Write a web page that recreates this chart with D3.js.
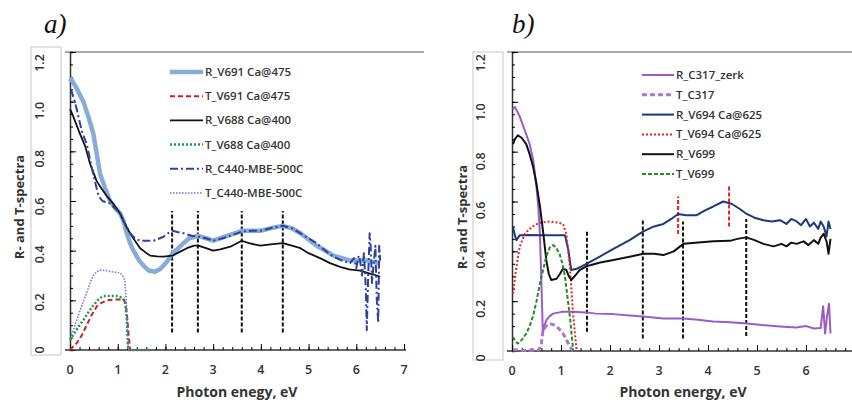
<!DOCTYPE html>
<html lang="en">
<head>
<meta charset="UTF-8">
<title>R and T spectra</title>
<script src="https://d3js.org/d3.v7.min.js"></script>
<style>
  body { margin: 0; background: #fff; }
  text { font-family: "Open Sans", "Liberation Sans", sans-serif; fill: #333; }
  .panel-title { font-family: "Liberation Serif", "DejaVu Serif", serif; font-style: italic; font-size: 27px; fill: #111; }
  .tick-lab { font-size: 12.5px; font-weight: 600; }
  .ax-title { font-size: 13px; font-weight: 700; }
  .leg { font-size: 11.5px; font-weight: 600; }
</style>
</head>
<body>
<svg width="852" height="405"></svg>
<script>
// ---- panel a data (x = photon energy eV, y = R or T) ----
var R_V691 = [[0,1.08],[0.03,1.09],[0.15,1.05],[0.28,1.0],[0.4,0.93],[0.49,0.87],[0.56,0.79],[0.63,0.71],[0.72,0.66],[0.84,0.60],[0.95,0.57],[1.05,0.55],[1.12,0.52],[1.19,0.47],[1.26,0.43],[1.33,0.40],[1.45,0.36],[1.54,0.34],[1.65,0.32],[1.78,0.315],[1.88,0.325],[1.96,0.34],[2.05,0.36],[2.15,0.39],[2.27,0.41],[2.38,0.43],[2.5,0.45],[2.69,0.46],[2.85,0.45],[3.0,0.44],[3.15,0.45],[3.29,0.46],[3.45,0.47],[3.6,0.48],[3.8,0.48],[3.99,0.48],[4.2,0.49],[4.46,0.50],[4.65,0.49],[4.83,0.47],[5.0,0.445],[5.17,0.42],[5.35,0.40],[5.52,0.38],[5.7,0.37],[5.87,0.36],[6.05,0.36],[6.22,0.36],[6.35,0.355],[6.5,0.35]];
var T_V691 = [[0,0.0],[0.07,0.015],[0.14,0.027],[0.25,0.06],[0.35,0.10],[0.45,0.14],[0.56,0.175],[0.66,0.19],[0.77,0.20],[0.95,0.203],[1.12,0.204],[1.16,0.19],[1.19,0.15],[1.23,0.06],[1.26,0.0],[1.7,0.0]];
var R_V688 = [[0,0.97],[0.05,0.95],[0.21,0.87],[0.32,0.82],[0.42,0.75],[0.56,0.68],[0.66,0.65],[0.77,0.62],[0.88,0.595],[0.98,0.57],[1.05,0.55],[1.12,0.52],[1.2,0.49],[1.29,0.46],[1.38,0.435],[1.47,0.41],[1.57,0.395],[1.68,0.38],[1.82,0.377],[1.96,0.376],[2.15,0.38],[2.3,0.395],[2.45,0.41],[2.6,0.42],[2.69,0.42],[2.85,0.41],[3.0,0.40],[3.15,0.405],[3.36,0.416],[3.5,0.43],[3.6,0.44],[3.75,0.43],[3.99,0.42],[4.2,0.425],[4.46,0.43],[4.65,0.42],[4.83,0.41],[5.0,0.39],[5.24,0.37],[5.45,0.35],[5.66,0.335],[5.85,0.325],[6.08,0.32],[6.25,0.31],[6.43,0.30],[6.5,0.295]];
var T_V688 = [[0,0.04],[0.1,0.07],[0.2,0.10],[0.28,0.12],[0.38,0.15],[0.49,0.18],[0.6,0.205],[0.7,0.217],[0.85,0.218],[0.98,0.217],[1.1,0.21],[1.15,0.195],[1.19,0.13],[1.22,0.0],[1.7,0.0]];
var R_C440 = [[0.02,1.05],[0.1,1.0],[0.14,0.97],[0.25,0.88],[0.35,0.83],[0.45,0.74],[0.52,0.68],[0.6,0.62],[0.68,0.60],[0.84,0.59],[1.05,0.55],[1.15,0.51],[1.26,0.47],[1.36,0.45],[1.47,0.44],[1.6,0.44],[1.75,0.44],[1.96,0.456],[2.05,0.47],[2.15,0.48],[2.25,0.475],[2.38,0.47],[2.55,0.46],[2.69,0.456],[2.85,0.45],[3.0,0.44],[3.2,0.45],[3.36,0.46],[3.6,0.477],[3.8,0.48],[3.99,0.48],[4.2,0.49],[4.46,0.50],[4.65,0.49],[4.83,0.47],[5.0,0.45],[5.17,0.43],[5.35,0.40],[5.52,0.376],[5.7,0.36],[5.87,0.35],[5.95,0.37],[6.0,0.33],[6.05,0.38],[6.08,0.36],[6.12,0.30],[6.16,0.39],[6.2,0.25],[6.22,0.08],[6.25,0.30],[6.28,0.47],[6.3,0.42],[6.33,0.27],[6.37,0.36],[6.4,0.42],[6.43,0.20],[6.46,0.11],[6.48,0.42],[6.5,0.36]];
var T_C440 = [[0,0.05],[0.07,0.08],[0.14,0.12],[0.25,0.18],[0.35,0.23],[0.42,0.27],[0.49,0.30],[0.56,0.315],[0.63,0.322],[0.75,0.32],[0.84,0.316],[0.95,0.313],[1.05,0.31],[1.1,0.30],[1.15,0.28],[1.18,0.20],[1.21,0.05],[1.22,0.0],[1.7,0.0]];
var vlinesA = [2.14, 2.68, 3.6, 4.46];
var vlineA_y = [0.07, 0.56];

// ---- panel b data ----
var R_C317 = [[0.02,0.97],[0.06,0.98],[0.16,0.94],[0.29,0.87],[0.36,0.83],[0.43,0.77],[0.5,0.66],[0.54,0.57],[0.57,0.47],[0.6,0.27],[0.63,0.07],[0.66,0.10],[0.7,0.124],[0.77,0.14],[0.84,0.15],[1.04,0.158],[1.25,0.158],[1.5,0.155],[1.72,0.15],[2.07,0.148],[2.4,0.142],[2.68,0.138],[3.09,0.13],[3.5,0.13],[3.8,0.125],[4.1,0.118],[4.45,0.115],[4.79,0.11],[5.1,0.104],[5.47,0.098],[5.8,0.094],[6.0,0.10],[6.16,0.09],[6.3,0.092],[6.35,0.18],[6.39,0.07],[6.43,0.14],[6.47,0.19],[6.5,0.07]];
var T_C317 = [[0.02,0.005],[0.3,0.002],[0.55,0.005],[0.6,0.03],[0.63,0.084],[0.7,0.10],[0.77,0.11],[0.85,0.105],[0.9,0.10],[0.98,0.085],[1.04,0.07],[1.1,0.05],[1.18,0.017],[1.25,0.0]];
var R_V694 = [[0.02,0.50],[0.05,0.47],[0.09,0.445],[0.16,0.465],[0.36,0.466],[0.6,0.465],[0.85,0.465],[1.08,0.465],[1.15,0.405],[1.21,0.325],[1.32,0.33],[1.52,0.35],[1.8,0.38],[2.07,0.41],[2.4,0.445],[2.68,0.48],[2.9,0.50],[3.09,0.51],[3.25,0.53],[3.39,0.55],[3.55,0.545],[3.77,0.545],[3.95,0.565],[4.11,0.58],[4.31,0.60],[4.49,0.59],[4.65,0.57],[4.79,0.55],[4.95,0.535],[5.13,0.525],[5.3,0.52],[5.47,0.525],[5.6,0.51],[5.7,0.53],[5.81,0.52],[5.9,0.505],[6.0,0.53],[6.08,0.50],[6.16,0.515],[6.25,0.49],[6.3,0.52],[6.36,0.50],[6.42,0.46],[6.46,0.52],[6.5,0.49]];
var T_V694 = [[0.02,0.23],[0.09,0.34],[0.16,0.42],[0.26,0.47],[0.36,0.49],[0.46,0.505],[0.57,0.515],[0.77,0.52],[0.95,0.515],[1.04,0.51],[1.11,0.47],[1.18,0.34],[1.25,0.14],[1.32,0.0]];
var R_V699 = [[0.02,0.83],[0.06,0.85],[0.12,0.866],[0.2,0.855],[0.29,0.83],[0.36,0.79],[0.43,0.74],[0.5,0.67],[0.57,0.58],[0.64,0.47],[0.7,0.365],[0.75,0.31],[0.8,0.285],[0.91,0.29],[0.98,0.31],[1.04,0.33],[1.11,0.325],[1.16,0.30],[1.21,0.285],[1.3,0.305],[1.38,0.325],[1.52,0.34],[1.8,0.355],[2.07,0.365],[2.4,0.378],[2.68,0.39],[2.9,0.39],[3.09,0.385],[3.3,0.40],[3.5,0.43],[3.8,0.435],[4.11,0.44],[4.45,0.442],[4.6,0.45],[4.78,0.456],[4.95,0.445],[5.13,0.43],[5.34,0.42],[5.5,0.43],[5.6,0.42],[5.7,0.435],[5.81,0.43],[5.95,0.44],[6.05,0.425],[6.16,0.445],[6.25,0.43],[6.3,0.455],[6.36,0.47],[6.42,0.44],[6.46,0.39],[6.5,0.45]];
var T_V699 = [[0.02,0.057],[0.06,0.04],[0.12,0.03],[0.2,0.045],[0.29,0.07],[0.36,0.10],[0.43,0.14],[0.5,0.20],[0.57,0.27],[0.64,0.33],[0.7,0.38],[0.77,0.415],[0.84,0.425],[0.9,0.415],[0.97,0.39],[1.03,0.35],[1.08,0.30],[1.13,0.22],[1.18,0.14],[1.22,0.06],[1.25,0.0]];
var vlinesB = [[1.53,0.077,0.48],[2.67,0.05,0.53],[3.49,0.05,0.52],[4.78,0.06,0.53]];
var redLinesB = [[3.39,0.47,0.62],[4.43,0.50,0.66]];

var yTicks = [0, 0.2, 0.4, 0.6, 0.8, 1.0, 1.2];
var yTickLabels = ["0", "0.2", "0.4", "0.6", "0.8", "1.0", "1.2"];
var xTicks = [0, 1, 2, 3, 4, 5, 6, 7];

var svg = d3.select("svg");

function drawPanel(p) {
  var g = svg.append("g");
  var x = d3.scaleLinear().domain([0, 7]).range(p.xr);
  var y = d3.scaleLinear().domain([0, 1.2]).range(p.yr);
  var yLab = d3.scaleLinear().domain([0, 1.2]).range(p.labr);

  // panel letter
  g.append("text").attr("class", "panel-title")
    .attr("x", p.title[0]).attr("y", p.title[1]).text(p.letter);

  // label box
  g.append("rect").attr("x", p.box[0]).attr("y", p.box[1])
    .attr("width", p.box[2]).attr("height", p.box[3])
    .attr("fill", "none").attr("stroke", "#c8c8c8").attr("stroke-width", 1);

  // top frame line
  g.append("line").attr("x1", p.xr[0] - 5).attr("x2", p.topEnd)
    .attr("y1", p.yr[1]).attr("y2", p.yr[1]).attr("stroke", "#555").attr("stroke-width", 1.2);

  // axes with inward ticks
  var yAxis = d3.axisRight(y).tickValues(d3.range(0, 1.2001, 0.05)).tickSize(3).tickFormat("");
  g.append("g").attr("transform", "translate(" + p.xr[0] + ",0)").call(yAxis)
    .call(function (s) { s.select(".domain").attr("stroke", "#333").attr("stroke-width", 1.5); });
  g.append("g").attr("transform", "translate(" + p.xr[0] + ",0)")
    .call(d3.axisRight(y).tickValues(yTicks).tickSize(6).tickFormat(""))
    .call(function (s) { s.select(".domain").remove(); });

  var xAxis = d3.axisTop(x).tickValues(d3.range(0, 7.001, 0.2)).tickSize(3).tickFormat("");
  g.append("g").attr("transform", "translate(0," + p.yr[0] + ")").call(xAxis)
    .call(function (s) {
      s.select(".domain").attr("d", "M" + (p.xr[0] - 5) + ",0H" + p.xEnd).attr("stroke", "#333").attr("stroke-width", 1.5);
    });
  g.append("g").attr("transform", "translate(0," + p.yr[0] + ")")
    .call(d3.axisTop(x).tickValues(xTicks).tickSize(6).tickFormat(""))
    .call(function (s) { s.select(".domain").remove(); });

  // x tick labels (the reference crops the last one at the page edge)
  g.selectAll(".xl").data(xTicks.filter(function (d) { return x(d) < 848; })).enter().append("text")
    .attr("class", "tick-lab").attr("text-anchor", "middle")
    .attr("x", function (d) { return x(d); }).attr("y", p.yr[0] + 24)
    .text(function (d) { return d; });

  // y tick labels (rotated)
  g.selectAll(".yl").data(yTicks).enter().append("text")
    .attr("class", "tick-lab").attr("text-anchor", "middle")
    .attr("transform", function (d) { return "translate(" + p.labX + "," + yLab(d) + ") rotate(-90)"; })
    .attr("dy", "0.35em")
    .text(function (d, i) { return yTickLabels[i]; });

  // axis titles
  g.append("text").attr("class", "ax-title").attr("text-anchor", "middle")
    .attr("transform", "translate(" + p.yt[0] + "," + p.yt[1] + ") rotate(-90)")
    .attr("dy", "0.35em").text("R- and T-spectra");
  g.append("text").attr("class", "ax-title").attr("text-anchor", "middle")
    .attr("x", p.xt[0]).attr("y", p.xt[1]).style("font-size", "14px").text(p.xtitle);

  var line = d3.line().x(function (d) { return x(d[0]); }).y(function (d) { return y(d[1]); });

  // vertical marker lines
  p.vlines.forEach(function (v) {
    g.append("line").attr("x1", x(v[0])).attr("x2", x(v[0]))
      .attr("y1", y(v[1])).attr("y2", y(v[2]))
      .attr("stroke", v[3]).attr("stroke-width", 2).attr("stroke-dasharray", "4,2");
  });

  // series
  p.series.forEach(function (s) {
    g.append("path").datum(s.data).attr("d", line)
      .attr("fill", "none").attr("stroke", s.color).attr("stroke-width", s.w)
      .attr("stroke-dasharray", s.dash || null).attr("stroke-linejoin", "round");
  });

  // legend
  p.series.forEach(function (s, i) {
    var ly = p.leg[1] + i * p.leg[3];
    g.append("line").attr("x1", p.leg[0]).attr("x2", p.leg[0] + p.leg[2])
      .attr("y1", ly).attr("y2", ly)
      .attr("stroke", s.color).attr("stroke-width", s.w).attr("stroke-dasharray", s.dash || null);
    g.append("text").attr("class", "leg").attr("x", p.leg[0] + p.leg[2] + 2).attr("y", ly)
      .attr("dy", "0.35em").text(s.name);
  });
}

drawPanel({
  letter: "a)", title: [44, 33],
  xr: [70, 404], yr: [350, 52], labr: [350, 63], labX: 40,
  box: [31, 47, 30, 308], topEnd: 424, xEnd: 406,
  yt: [19, 207], xt: [237, 397], xtitle: "Photon enegy, eV",
  leg: [170, 72, 33, 24.2],
  vlines: vlinesA.map(function (v) { return [v, vlineA_y[0], vlineA_y[1], "#111"]; }),
  series: [
    { name: "R_V691 Ca@475", data: R_V691, color: "#86acd8", w: 4.5 },
    { name: "T_V691 Ca@475", data: T_V691, color: "#c8202a", w: 2, dash: "5,3" },
    { name: "R_V688 Ca@400", data: R_V688, color: "#111", w: 1.8 },
    { name: "T_V688 Ca@400", data: T_V688, color: "#1a9a4a", w: 2.5, dash: "2,2" },
    { name: "R_C440-MBE-500C", data: R_C440, color: "#3040a0", w: 2, dash: "8,3,2,3" },
    { name: "T_C440-MBE-500C", data: T_C440, color: "#7070d0", w: 1.5, dash: "1.5,1.5" }
  ]
});

drawPanel({
  letter: "b)", title: [512, 33],
  xr: [512, 855], yr: [351, 52], labr: [358, 63], labX: 481,
  box: [473, 52, 30, 308], topEnd: 852, xEnd: 852,
  yt: [462, 217], xt: [683, 397], xtitle: "Photon energy, eV",
  leg: [642, 75, 32, 19.8],
  vlines: vlinesB.map(function (v) { return [v[0], v[1], v[2], "#111"]; })
    .concat(redLinesB.map(function (v) { return [v[0], v[1], v[2], "#e02020"]; })),
  series: [
    { name: "R_C317_zerk", data: R_C317, color: "#9a5cc6", w: 2 },
    { name: "T_C317", data: T_C317, color: "#a878d0", w: 3, dash: "5,3" },
    { name: "R_V694 Ca@625", data: R_V694, color: "#1d3a78", w: 2 },
    { name: "T_V694 Ca@625", data: T_V694, color: "#e02828", w: 2, dash: "2,2" },
    { name: "R_V699", data: R_V699, color: "#111", w: 2 },
    { name: "T_V699", data: T_V699, color: "#2a8a2a", w: 2, dash: "4,2" }
  ]
});
</script>
</body>
</html>
